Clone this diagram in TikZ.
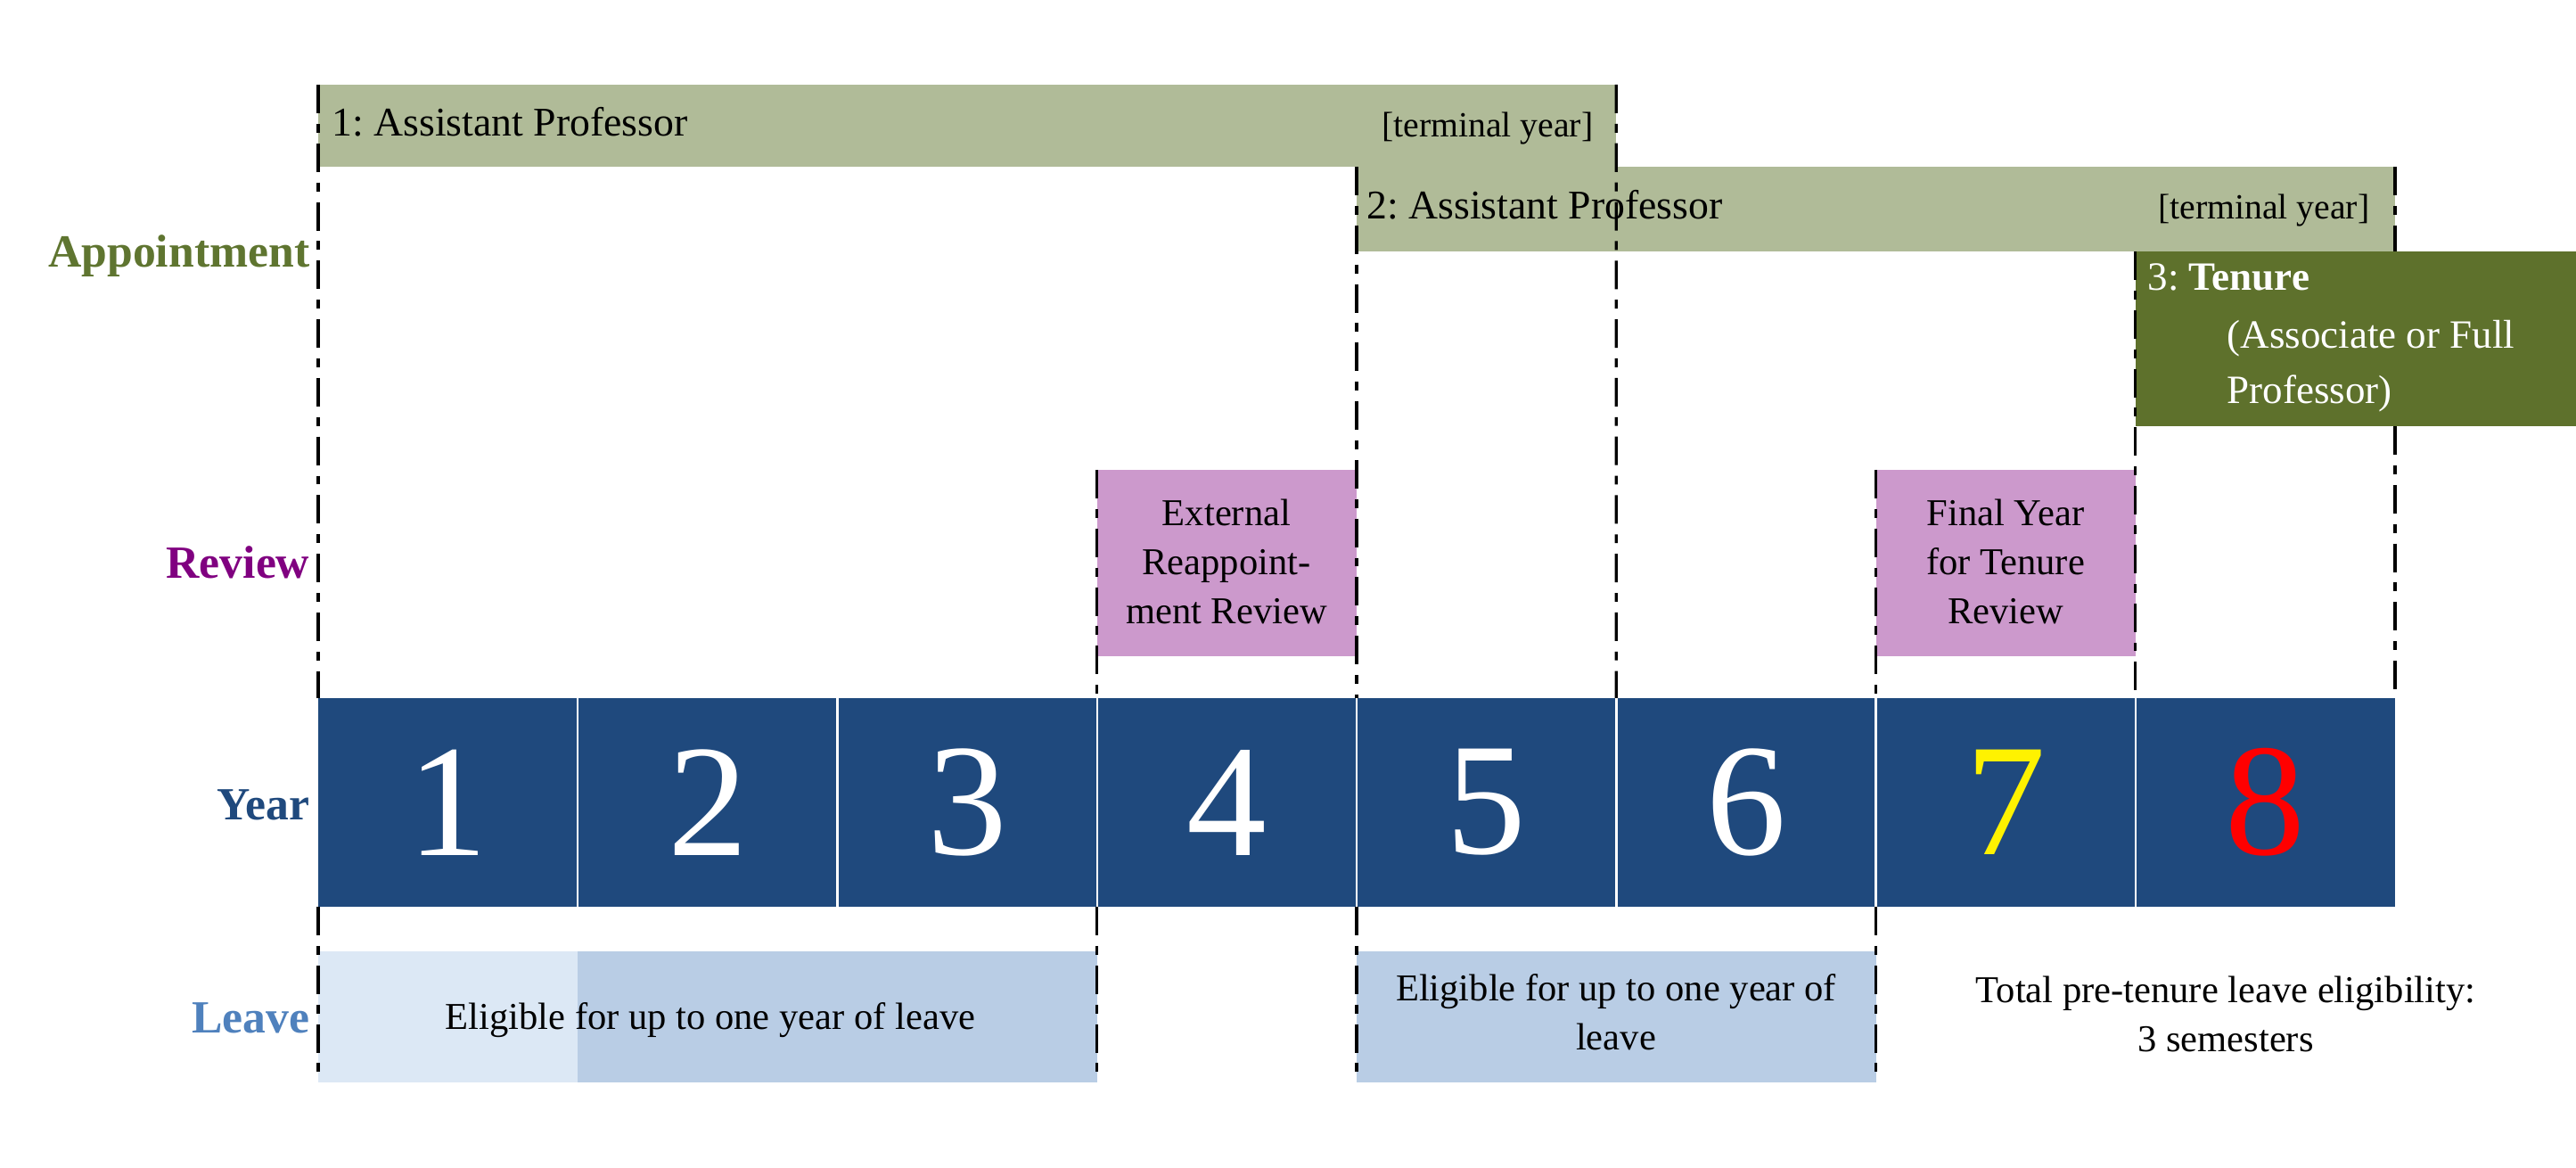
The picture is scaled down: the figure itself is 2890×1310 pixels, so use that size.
\documentclass[tikz,border=0pt]{standalone}
\usepackage{fontspec}
\setmainfont{Liberation Serif}
\usetikzlibrary{fit}
\definecolor{barA}{RGB}{176,187,152}
\definecolor{tenG}{RGB}{94,113,44}
\definecolor{pinkR}{RGB}{204,153,204}
\definecolor{navy}{RGB}{31,73,125}
\definecolor{lbA}{RGB}{220,232,245}
\definecolor{lbB}{RGB}{185,205,229}
\definecolor{labApp}{RGB}{95,117,48}
\definecolor{labRev}{RGB}{128,0,128}
\definecolor{labLeave}{RGB}{79,129,189}
\frenchspacing
\begin{document}
\frenchspacing
\begin{tikzpicture}[x=0.01cm,y=-0.01cm,
  area/.style={inner sep=0pt,outer sep=0pt,draw=none},
  bartxt/.style={inner sep=0pt,font=\fontsize{13}{16}\selectfont,text=black},
  termtxt/.style={inner sep=0pt,font=\fontsize{11.3}{14}\selectfont,text=black},
  tentxt/.style={inner sep=0pt,font=\fontsize{12.8}{16}\selectfont,text=white},
  bodytxt/.style={inner sep=0pt,font=\fontsize{12.1}{15.65}\selectfont,text=black,align=center},
  lab/.style={inner sep=0pt,font=\fontsize{14.7}{18}\selectfont\bfseries,anchor=base east},
  yearnum/.style={inner sep=0pt,font=\fontsize{51}{60}\selectfont},
  guide/.style={black,line width=0.9pt,dash pattern=on 9.1pt off 3.4pt on 2.8pt off 3.4pt},
  sep/.style={white,line width=0.7pt}
]
\useasboundingbox (0,0) rectangle (2890,1310);

% appointment bars
\node[area,fill=barA,fit={(357,95) (1813.25,187)}] (bar1) {};
\node[area,fill=barA,fit={(1522,187) (2687,282)}] (bar2) {};

% review boxes
\node[area,fill=pinkR,fit={(1230.75,527) (1522,736)}] (rev1) {};
\node[area,fill=pinkR,fit={(2104.5,527) (2395.75,736)}] (rev2) {};

% leave boxes
\node[area,fill=lbA,fit={(357,1067) (648.25,1214)}] (lv1a) {};
\node[area,fill=lbB,fit={(648.25,1067) (1230.75,1214)}] (lv1b) {};
\node[area,fill=lbB,fit={(1522,1067) (2104.5,1214)}] (lv2) {};

% year boxes
\foreach \i/\c in {1/white,2/white,3/white,4/white,5/white,6/white,7/yellow,8/red}{
  \pgfmathsetmacro\xa{357+291.25*(\i-1)}
  \pgfmathsetmacro\xb{357+291.25*\i}
  \node[area,fill=navy,fit={(\xa,783) (\xb,1017)}] (y\i) {};
  \node[yearnum,text=\c] (n\i) at (y\i.center) {\i};
}
\foreach \i in {1,...,7}{
  \draw[sep] (y\i.north east) -- (y\i.south east);
}

% dashed guides
\draw[guide] (bar1.north west) -- (y1.north west);
\draw[guide] (y1.south west) -- (lv1a.south west);
\draw[guide] (rev1.north west) -- (y4.north west);
\draw[guide] (y4.south west) -- (lv1b.south east);
\draw[guide] (bar2.north west) -- (y5.north west);
\draw[guide] (y5.south west) -- (lv2.south west);
\draw[guide] (bar1.north east) -- (y6.north west);
\draw[guide] (rev2.north west) -- (y7.north west);
\draw[guide] (y7.south west) -- (lv2.south east);
\draw[guide] (bar2.north east) -- (bar2.south east);

% tenure box
\node[area,fill=tenG,fit={(2395.75,282) (2890,478)}] (ten) {};
\draw[guide] (ten.north west) -- (y8.north west);
\coordinate (tenb) at (y8.north east |- ten.south);
\draw[guide] (tenb) -- (y8.north east);

% texts in bars
\node[bartxt,anchor=base west] (t1) at (372,153) {1: Assistant Professor};
\node[termtxt,anchor=base east] (t1r) at (1788,154) {[terminal year]};
\node[bartxt,anchor=base west] (t2) at (1533,246) {2: Assistant Professor};
\node[termtxt,anchor=base east] (t2r) at (2659,246) {[terminal year]};
\node[tentxt,anchor=base west] (t3a) at (2409,326) {3: \textbf{Tenure}};
\node[tentxt,anchor=base west] (t3b) at (2498,391) {(Associate or Full};
\node[tentxt,anchor=base west] (t3c) at (2498,453) {Professor)};

% review texts (anchored at the baseline of the last line)
\node[bodytxt,anchor=base] (r1t) at (1376,700) {External\\Reappoint-\\ment Review};
\node[bodytxt,anchor=base] (r2t) at (2250,700) {Final Year\\for Tenure\\Review};

% leave texts
\node[bodytxt,anchor=base] (l1t) at (797,1155) {Eligible for up to one year of leave};
\node[bodytxt,anchor=base] (l2t) at (1813,1178) {Eligible for up to one year of\\leave};
\node[bodytxt,anchor=base] (l3t) at (2497,1180) {Total pre-tenure leave eligibility:\\3 semesters};

% row labels
\node[lab,text=labApp] (lApp) at (348,300) {Appointment};
\node[lab,text=labRev] (lRev) at (348,649) {Review};
\node[lab,text=navy] (lYear) at (348,920) {Year};
\node[lab,text=labLeave] (lLeave) at (348,1159) {Leave};
\end{tikzpicture}
\end{document}
